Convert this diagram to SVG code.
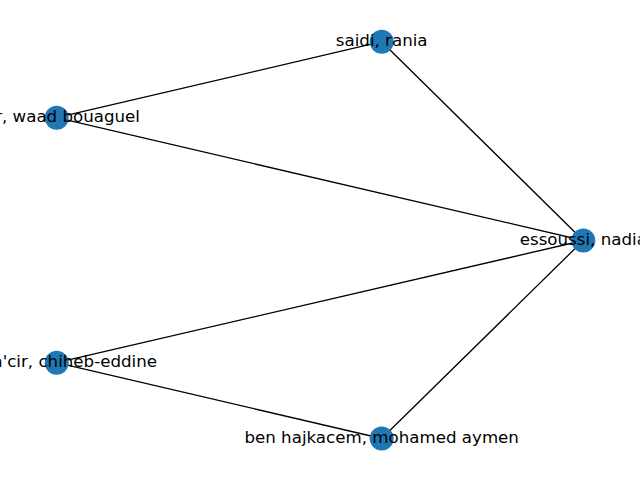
<svg xmlns="http://www.w3.org/2000/svg" width="640" height="480" viewBox="0 0 640 480">
<style>
.e{stroke:#000;stroke-width:1.3;fill:none}
.n{fill:#1f77b4}
.t{font-family:"DejaVu Sans",sans-serif;font-size:16.67px;fill:#000}
</style>
<rect width="640" height="480" fill="#fff"/>
<g id="edges">
<line class="e" x1="381.7" y1="41.7" x2="56.7" y2="117.7"/>
<line class="e" x1="381.7" y1="41.7" x2="583.3" y2="240.5"/>
<line class="e" x1="56.7" y1="117.7" x2="583.3" y2="240.5"/>
<line class="e" x1="583.3" y1="240.5" x2="56.7" y2="362.7"/>
<line class="e" x1="583.3" y1="240.5" x2="381.7" y2="438.5"/>
<line class="e" x1="56.7" y1="362.7" x2="381.7" y2="438.5"/>
</g>
<g id="saidi">
<circle class="n" cx="381.7" cy="41.7" r="12"/>
<text class="t" x="381.7" y="46.2" text-anchor="middle">saidi, rania</text>
</g>
<g id="waad">
<circle class="n" cx="56.7" cy="117.7" r="12"/>
<text class="t" x="140" y="122.2" text-anchor="end">r, waad bouaguel</text>
</g>
<g id="essoussi">
<circle class="n" cx="583.3" cy="240.5" r="12"/>
<text class="t" x="583.3" y="245" text-anchor="middle">essoussi, nadia</text>
</g>
<g id="chiheb">
<circle class="n" cx="56.7" cy="362.7" r="12"/>
<text class="t" x="157" y="367.2" text-anchor="end">n'cir, chiheb-eddine</text>
</g>
<g id="ben">
<circle class="n" cx="381.7" cy="438.5" r="12"/>
<text class="t" x="381.7" y="443" text-anchor="middle">ben hajkacem, mohamed aymen</text>
</g>
</svg>
